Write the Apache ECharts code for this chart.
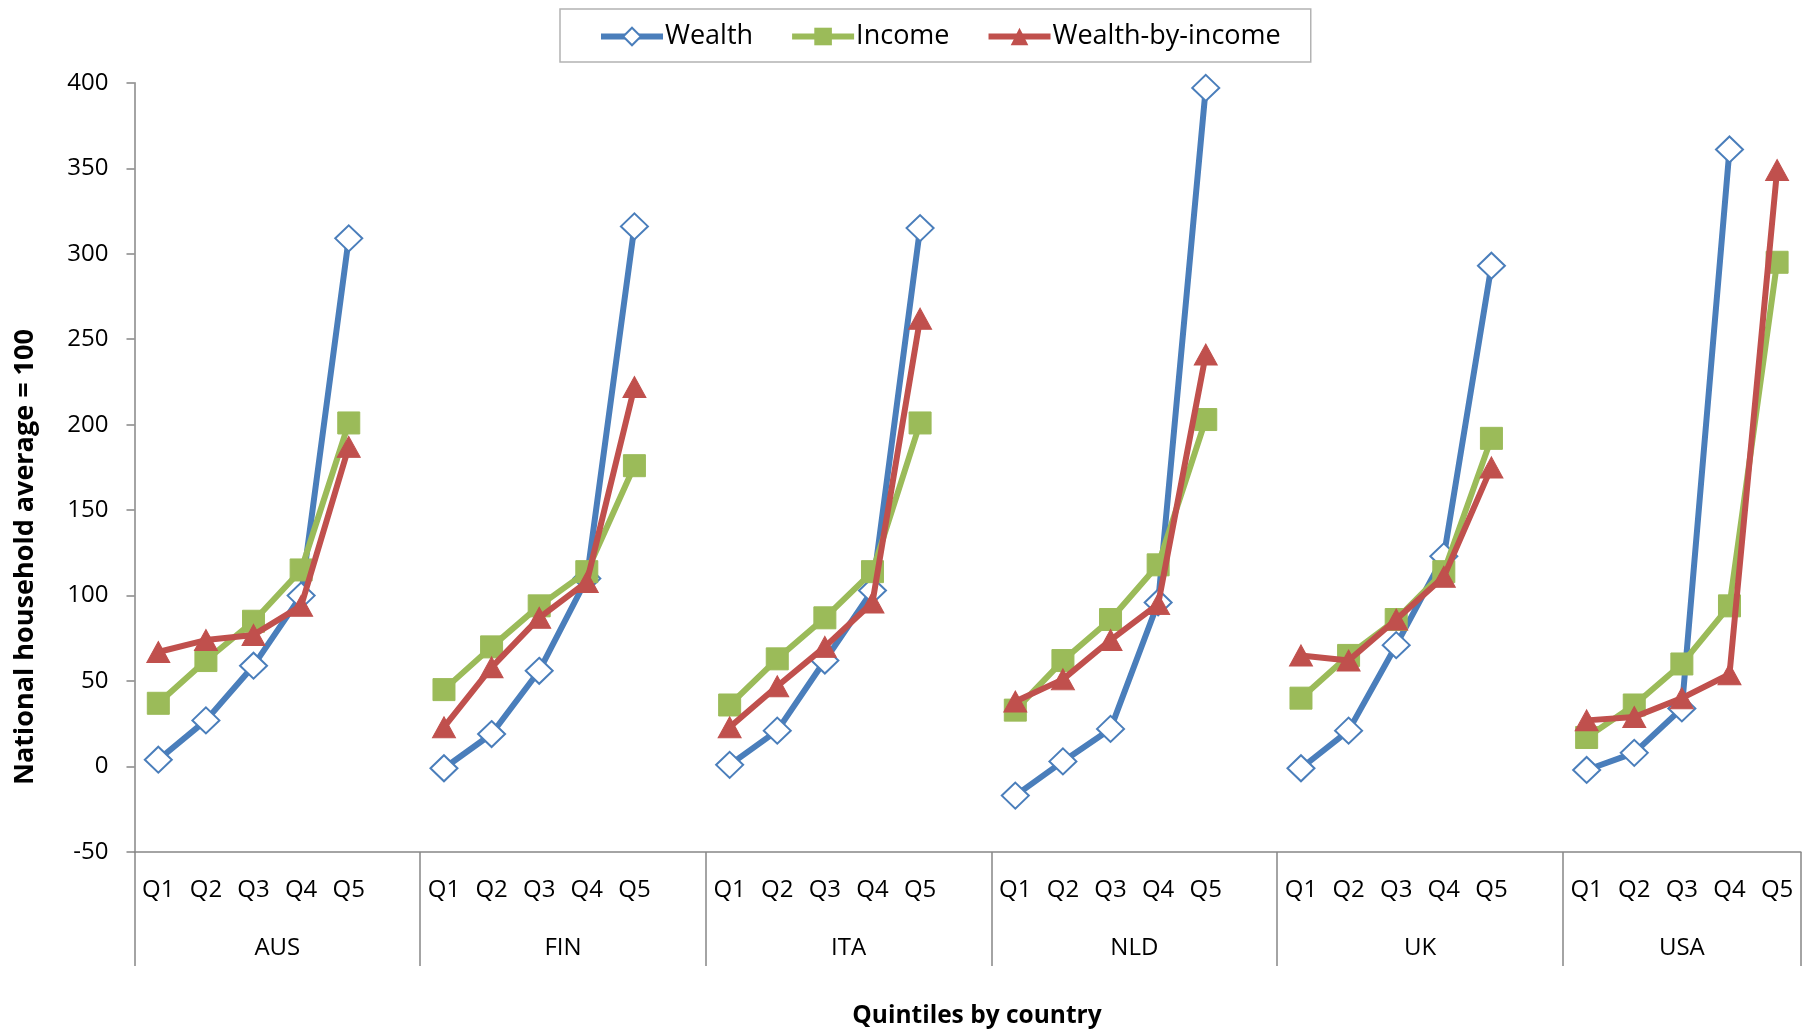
<!DOCTYPE html>
<html>
<head>
<meta charset="utf-8">
<title>Quintiles by country</title>
<script src="https://cdn.jsdelivr.net/npm/echarts@6/dist/echarts.min.js"></script>
<style>
  html, body { margin: 0; padding: 0; background: #ffffff; }
  #chart { width: 1803px; height: 1030px; }
</style>
</head>
<body>
<div id="chart"></div>
<script>
// Countries and the income quintiles shown inside each country group
const countries = ['AUS', 'FIN', 'ITA', 'NLD', 'UK', 'USA'];
const quintiles = ['Q1', 'Q2', 'Q3', 'Q4', 'Q5'];

// National household average = 100, one row per country (Q1..Q5)
const wealth = [
  [4, 27, 59, 100, 309],
  [-1, 19, 56, 110, 316],
  [1, 21, 62, 103, 315],
  [-17, 3, 22, 96, 397],
  [-1, 21, 71, 123, 293],
  [-2, 8, 34, 361, null]
];
const income = [
  [37, 62, 85, 115, 201],
  [45, 70, 94, 114, 176],
  [36, 63, 87, 114, 201],
  [33, 62, 86, 118, 203],
  [40, 65, 86, 114, 192],
  [17, 36, 60, 94, 295]
];
const wealthByIncome = [
  [67, 74, 77, 94, 187],
  [23, 58, 87, 108, 222],
  [23, 47, 70, 96, 262],
  [38, 51, 74, 95, 241],
  [65, 62, 86, 111, 175],
  [27, 29, 40, 54, 349]
];

const yTicks = { min: -50, max: 400, step: 50 };

// Every country group holds the five quintiles plus an empty spacer slot
// (except the last group), so the lines break between countries.
const groupSizes = countries.map(function (c, i) {
  return i < countries.length - 1 ? quintiles.length + 1 : quintiles.length;
});
const categories = [];
groupSizes.forEach(function (size) {
  quintiles.forEach(function (q) { categories.push(q); });
  if (size > quintiles.length) categories.push('');
});
function flatten(rows) {
  const out = [];
  rows.forEach(function (r, i) {
    r.forEach(function (v) { out.push(v); });
    if (groupSizes[i] > quintiles.length) out.push(null);
  });
  return out;
}

// Outer (country) level on a half-slot grid: separators at group edges,
// country names centred on each group.
const halfSlots = [];
const boundaryIdx = {};
const centreIdx = {};
(function () {
  let start = 0;
  boundaryIdx[0] = true;
  groupSizes.forEach(function (size, i) {
    centreIdx[start + size] = countries[i];
    start += size * 2;
    boundaryIdx[start] = true;
  });
  for (let k = 0; k <= start; k++) halfSlots.push(centreIdx[k] || '');
})();

const FONT = '"Open Sans", "Liberation Sans", sans-serif';
const AXIS_GRAY = '#868686';
const BLUE = '#4A7EBB';
const GREEN = '#9BBB59';
const RED = '#C0504D';

const chart = echarts.init(document.getElementById('chart'), null, { renderer: 'canvas' });

chart.setOption({
  animation: false,
  backgroundColor: '#ffffff',
  textStyle: { fontFamily: FONT, color: '#000' },
  legend: {
    left: 560,
    top: 9,
    padding: [14, 30, 12, 38],
    borderColor: '#b3b3b3',
    borderWidth: 1.5,
    itemWidth: 62,
    itemHeight: 22,
    itemGap: 36,
    lineStyle: { width: 6 },
    textStyle: { fontFamily: FONT, fontSize: 27, color: '#000', padding: [0, 0, 0, -3] },
    data: ['Wealth', 'Income', 'Wealth-by-income']
  },
  grid: {
    left: 134.5,
    top: 82.8,
    width: 1666.4,
    height: 769.2,
    outerBoundsMode: 'none',
    containLabel: false
  },
  xAxis: [
    {
      type: 'category',
      data: categories,
      boundaryGap: true,
      position: 'bottom',
      axisLine: { show: true, onZero: false, lineStyle: { color: AXIS_GRAY, width: 1.5 } },
      axisTick: { show: false },
      axisLabel: { interval: 0, fontFamily: FONT, fontSize: 24, color: '#000', margin: 26 }
    },
    {
      type: 'category',
      data: halfSlots,
      boundaryGap: false,
      position: 'bottom',
      axisLine: { show: false, onZero: false },
      axisTick: {
        show: true,
        length: 114,
        interval: function (idx) { return !!boundaryIdx[idx]; },
        lineStyle: { color: AXIS_GRAY, width: 1.5 }
      },
      axisLabel: {
        interval: function (idx) { return !!centreIdx[idx]; },
        fontFamily: FONT, fontSize: 24, color: '#000', margin: 84
      }
    }
  ],
  yAxis: {
    type: 'value',
    min: yTicks.min,
    max: yTicks.max,
    interval: yTicks.step,
    axisLine: { show: true, lineStyle: { color: AXIS_GRAY, width: 1.5 } },
    axisTick: { show: true, length: 8, lineStyle: { color: AXIS_GRAY, width: 1.5 } },
    splitLine: { show: false },
    axisLabel: { fontFamily: FONT, fontSize: 24, color: '#000', margin: 26 }
  },
  graphic: [
    {
      type: 'text',
      x: 25,
      y: 557,
      rotation: Math.PI / 2,
      style: {
        text: 'National household average = 100',
        font: 'bold 27px ' + FONT,
        fill: '#000',
        textAlign: 'center',
        textVerticalAlign: 'middle'
      }
    },
    {
      type: 'text',
      x: 977,
      y: 1016,
      style: {
        text: 'Quintiles by country',
        font: 'bold 24.5px ' + FONT,
        fill: '#000',
        textAlign: 'center',
        textVerticalAlign: 'middle'
      }
    }
  ],
  series: [
    {
      name: 'Wealth',
      type: 'line',
      xAxisIndex: 0,
      data: flatten(wealth),
      connectNulls: false,
      symbol: 'diamond',
      symbolSize: [27, 26],
      lineStyle: { color: BLUE, width: 6 },
      itemStyle: { color: '#ffffff', borderColor: BLUE, borderWidth: 2 },
      z: 2
    },
    {
      name: 'Income',
      type: 'line',
      xAxisIndex: 0,
      data: flatten(income),
      connectNulls: false,
      symbol: 'rect',
      symbolSize: 22,
      lineStyle: { color: GREEN, width: 6 },
      itemStyle: { color: GREEN, borderColor: GREEN },
      z: 3
    },
    {
      name: 'Wealth-by-income',
      type: 'line',
      xAxisIndex: 0,
      data: flatten(wealthByIncome),
      connectNulls: false,
      symbol: 'triangle',
      symbolSize: [23, 21],
      lineStyle: { color: RED, width: 6 },
      itemStyle: { color: RED, borderColor: RED },
      z: 4
    }
  ]
});
</script>
</body>
</html>
